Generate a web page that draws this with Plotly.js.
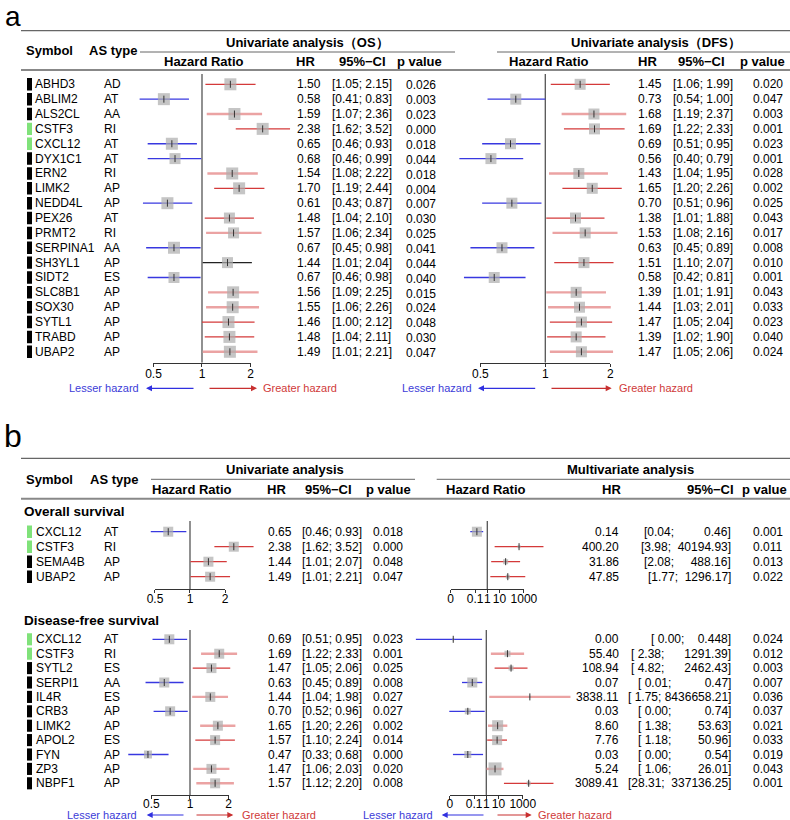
<!DOCTYPE html>
<html><head><meta charset="utf-8">
<script src="https://cdn.plot.ly/plotly-3.0.1.min.js"></script>
<style>html,body{margin:0;padding:0;background:#fff;}#chart{width:790px;height:820px;}</style>
</head><body><div id="chart"></div>
<script>
// ================= DATA =================
// Panel a: univariate analysis, OS and DFS
const aGenes  = ['ABHD3','ABLIM2','ALS2CL','CSTF3','CXCL12','DYX1C1','ERN2','LIMK2','NEDD4L','PEX26','PRMT2','SERPINA1','SH3YL1','SIDT2','SLC8B1','SOX30','SYTL1','TRABD','UBAP2'];
const aAsType = ['AD','AT','AA','RI','AT','AT','RI','AP','AP','AT','RI','AA','AP','ES','AP','AP','AP','AP','AP'];
const aFlag   = ['k','k','k','g','g','k','k','k','k','k','k','k','k','k','k','k','k','k','k'];
const aOsHR  = [1.50,0.58,1.59,2.38,0.65,0.68,1.54,1.70,0.61,1.48,1.57,0.67,1.44,0.67,1.56,1.55,1.46,1.48,1.49];
const aOsLo  = [1.05,0.41,1.07,1.62,0.46,0.46,1.08,1.19,0.43,1.04,1.06,0.45,1.01,0.46,1.09,1.06,1.00,1.04,1.01];
const aOsHi  = [2.15,0.83,2.36,3.52,0.93,0.99,2.22,2.44,0.87,2.10,2.34,0.98,2.04,0.98,2.25,2.26,2.12,2.11,2.21];
const aOsP   = [0.026,0.003,0.023,0.000,0.018,0.044,0.018,0.004,0.007,0.030,0.025,0.041,0.044,0.040,0.015,0.024,0.048,0.030,0.047];
const aDfsHR = [1.45,0.73,1.68,1.69,0.69,0.56,1.43,1.65,0.70,1.38,1.53,0.63,1.51,0.58,1.39,1.44,1.47,1.39,1.47];
const aDfsLo = [1.06,0.54,1.19,1.22,0.51,0.40,1.04,1.20,0.51,1.01,1.08,0.45,1.10,0.42,1.01,1.03,1.05,1.02,1.05];
const aDfsHi = [1.99,1.00,2.37,2.33,0.95,0.79,1.95,2.26,0.96,1.88,2.16,0.89,2.07,0.81,1.91,2.01,2.04,1.90,2.06];
const aDfsP  = [0.020,0.047,0.003,0.001,0.023,0.001,0.028,0.002,0.025,0.043,0.017,0.008,0.010,0.001,0.043,0.033,0.023,0.040,0.024];

// Panel b: overall survival
const bOsGenes  = ['CXCL12','CSTF3','SEMA4B','UBAP2'];
const bOsAsType = ['AT','RI','AP','AP'];
const bOsFlag   = ['g','g','k','k'];
const bOsUniHR = [0.65,2.38,1.44,1.49];
const bOsUniLo = [0.46,1.62,1.01,1.01];
const bOsUniHi = [0.93,3.52,2.07,2.21];
const bOsUniP  = [0.018,0.000,0.048,0.047];
const bOsMulHR = [0.14,400.20,31.86,47.85];
const bOsMulLo = [0.04,3.98,2.08,1.77];
const bOsMulHi = [0.46,40194.93,488.16,1296.17];
const bOsMulP  = [0.001,0.011,0.013,0.022];
const bOsMulCI = ['[0.04;         0.46]','[3.98;  40194.93]','[2.08;     488.16]','[1.77;  1296.17]'];

// Panel b: disease-free survival
const bDfsGenes  = ['CXCL12','CSTF3','SYTL2','SERPI1','IL4R','CRB3','LIMK2','APOL2','FYN','ZP3','NBPF1'];
const bDfsAsType = ['AT','RI','ES','AA','ES','AP','AP','ES','AP','AP','AP'];
const bDfsFlag   = ['g','g','k','k','k','k','k','k','k','k','k'];
const bDfsUniHR = [0.69,1.69,1.47,0.63,1.44,0.70,1.65,1.57,0.47,1.47,1.57];
const bDfsUniLo = [0.51,1.22,1.05,0.45,1.04,0.52,1.20,1.10,0.33,1.06,1.12];
const bDfsUniHi = [0.95,2.33,2.06,0.89,1.98,0.96,2.26,2.24,0.68,2.03,2.20];
const bDfsUniP  = [0.023,0.001,0.025,0.008,0.027,0.027,0.002,0.014,0.000,0.020,0.008];
const bDfsMulHR = [0.0019,55.40,108.94,0.07,3838.11,0.03,8.60,7.76,0.03,5.24,3089.41];
const bDfsMulLo = [0.0000016,2.38,4.82,0.01,1.75,0.0009,1.38,1.18,0.0018,1.06,28.31];
const bDfsMulHi = [0.448,1291.39,2462.43,0.47,8436658.21,0.74,53.63,50.96,0.54,26.01,337136.25];
const bDfsMulP  = [0.024,0.012,0.003,0.007,0.036,0.037,0.021,0.033,0.019,0.043,0.001];
const bDfsMulCI = ['[ 0.00;    0.448]','[ 2.38;      1291.39]','[ 4.82;      2462.43]','[ 0.01;          0.47]',
                   '[ 1.75; 8436658.21]','[ 0.00;          0.74]','[ 1.38;        53.63]','[ 1.18;        50.96]',
                   '[ 0.00;          0.54]','[ 1.06;        26.01]','[28.31;  337136.25]'];

// axis tick labels
const uniTicks = [0.5, 1, 2];
const uniTickText = ['0.5', '1', '2'];
const mulTicks = [0.001, 0.1, 1, 10, 1000];
const mulTickText = ['0', '0.1', '1', '10', '1000'];

// ================= STYLES (kept apart from data) =================
const aOsStyle  = ['r','b','p','r','b','b','p','r','b','r','p','b','k','b','p','p','r','r','p'];
const aDfsStyle = ['r','b','p','r','b','b','p','r','b','r','p','b','r','b','p','p','r','r','p'];
const aOsSize   = [12,12,12,12,12,11,12,12,12,11,11,12,11,11,12,12,12,12,12];
const aDfsSize  = [11,11,11,11,11,11,11,11,11,11,11,11,11,11,11,11,11,11,11];
const bOsUniStyle = ['b','r','r','r'], bOsUniSize = [10,10,10,10];
const bOsMulStyle = ['b','r','r','r'], bOsMulSize = [10,3,5,4];
const bDfsUniStyle = ['b','p','r','b','p','b','p','r','b','p','p'];
const bDfsUniSize  = [10,10,10,10,10,10,10,10,8,10,10];
const bDfsMulStyle = ['b','p','r','b','p','b','p','r','b','p','r'];
const bDfsMulSize  = [2,6,5,10,2,6,11,10,7,13,4];

const LINE = {
  r: {color: '#d43a3a', width: 1.3},
  p: {color: '#eba3a3', width: 2.4},
  b: {color: '#3838e0', width: 1.3},
  k: {color: '#222222', width: 1.2}
};
const FLAGCOL = {k: '#000000', g: '#80e27a'};

// ================= BUILD =================
const W = 790, H = 820;
const PX = v => v / W, PY = v => 1 - v / H;
const FONT = 'Arial, "Liberation Sans", sans-serif';
const traces = [], annotations = [], shapes = [];
const layout = {
  width: W, height: H, margin: {l: 0, r: 0, t: 0, b: 0},
  paper_bgcolor: '#fff', plot_bgcolor: 'rgba(0,0,0,0)',
  showlegend: false, hovermode: false,
  font: {family: FONT, size: 12, color: '#000'}
};
let nF = 0;
const f2 = v => v.toFixed(2), f3 = v => v.toFixed(3);

function txt(x, y, text, o) {
  o = o || {};
  annotations.push({
    x: PX(x), y: o.yref ? y : PY(y),
    xref: 'paper', yref: o.yref || 'paper', text: text, showarrow: false,
    xanchor: o.anchor || 'left', yanchor: 'middle', borderpad: 0,
    font: {family: FONT, size: o.size || 12, color: o.color || '#000'}
  });
}

function forest(f) {
  nF++;
  const k = nF;
  const xm = 2 * k - 1, xt = 2 * k;
  const yName = 'y' + k;
  const tIdx = -(f.row0 - f.top) / f.step, bIdx = (f.bottom - f.row0) / f.step;
  layout['yaxis' + (k === 1 ? '' : k)] = {domain: [PY(f.bottom), PY(f.top)], range: [bIdx, tIdx], visible: false, fixedrange: true};
  layout['xaxis' + (xm === 1 ? '' : xm)] = {
    domain: [PX(f.L), PX(f.R)], type: 'log', range: [(f.L - f.c) / f.u, (f.R - f.c) / f.u],
    anchor: yName, visible: false, fixedrange: true
  };
  const eps = 1e-4;
  const lt = Math.log10(f.ticks[0]) - eps, rt = Math.log10(f.ticks[f.ticks.length - 1]) + eps;
  layout['xaxis' + xt] = {
    domain: [PX(f.c + f.u * lt), PX(f.c + f.u * rt)], type: 'log', range: [lt, rt], anchor: yName,
    showline: true, linecolor: '#333', linewidth: 1, ticks: 'outside', ticklen: 3, tickwidth: 1, tickcolor: '#333',
    tickvals: f.ticks, ticktext: f.tickText, tickangle: 0, ticklabelstandoff: f.standoff,
    tickfont: {family: FONT, size: 12, color: '#000'},
    showgrid: false, zeroline: false, fixedrange: true
  };
  const xmN = 'x' + (xm === 1 ? '' : xm), xtN = 'x' + xt;
  const idx = f.hr.map((_, i) => i);
  // invisible anchor trace for the tick axis
  traces.push({x: [1], y: [0], xaxis: xtN, yaxis: yName, mode: 'markers', marker: {opacity: 0}, hoverinfo: 'skip'});
  // reference line at HR = 1
  traces.push({x: [1, 1], y: [tIdx, bIdx], xaxis: xmN, yaxis: yName, mode: 'lines', line: {color: '#555', width: 1.3}, hoverinfo: 'skip'});
  // confidence intervals grouped by style
  ['p', 'r', 'b', 'k'].forEach(s => {
    const xs = [], ys = [];
    idx.forEach(i => { if (f.style[i] === s) { xs.push(f.lo[i], f.hi[i], null); ys.push(i, i, null); } });
    if (xs.length) traces.push({x: xs, y: ys, xaxis: xmN, yaxis: yName, mode: 'lines', line: LINE[s], hoverinfo: 'skip'});
  });
  // squares
  traces.push({x: f.hr, y: idx, xaxis: xmN, yaxis: yName, mode: 'markers',
    marker: {symbol: 'square', size: f.size, color: '#adadad', line: {width: 0}}, hoverinfo: 'skip', cliponaxis: false});
  // point estimate tick
  traces.push({x: f.hr, y: idx, xaxis: xmN, yaxis: yName, mode: 'markers',
    marker: {symbol: 'line-ns-open', size: 5, color: '#333', line: {color: '#333', width: 1}}, hoverinfo: 'skip', cliponaxis: false});
  return yName;
}

function rowLabels(yName, genes, types, flags, gx, tx) {
  genes.forEach((g, i) => {
    shapes.push({type: 'rect', xref: 'paper', yref: yName, x0: PX(27), x1: PX(32), y0: i - 0.42, y1: i + 0.42,
      fillcolor: FLAGCOL[flags[i]], line: {width: 0}});
    txt(gx, i, g, {yref: yName});
    txt(tx, i, types[i], {yref: yName});
  });
}

function hline(y, x0, x1, color, width) {
  shapes.push({type: 'line', xref: 'paper', yref: 'paper', x0: PX(x0), x1: PX(x1), y0: PY(y), y1: PY(y), line: {color: color, width: width}});
}

function arrow(y, head, tail, color) {
  annotations.push({x: PX(head), y: PY(y), xref: 'paper', yref: 'paper', ax: tail - head, ay: 0, text: '',
    showarrow: true, arrowhead: 2, arrowsize: 1, arrowwidth: 1.2, arrowcolor: color});
}
function hazards(y, lesserEnd, bHead, bTail, rTail, rHead, greaterStart) {
  txt(lesserEnd, y, 'Lesser hazard', {anchor: 'right', size: 11, color: '#3c3cd8'});
  arrow(y, bHead, bTail, '#3030e0');
  arrow(y, rHead, rTail, '#c83030');
  txt(greaterStart, y, 'Greater hazard', {anchor: 'left', size: 11, color: '#d03a3a'});
}

// ---------- Panel a ----------
txt(4, 16, 'a', {size: 28});
hline(30.7, 21, 790, '#666', 1.2);
hline(52, 140, 455, '#666', 1);
hline(52, 497, 790, '#666', 1);
hline(70, 21, 790, '#888', 2);
txt(49.5, 50, '<b>Symbol</b>', {anchor: 'center', size: 13});
txt(113, 50, '<b>AS type</b>', {anchor: 'center', size: 13});
txt(307.5, 42, '<b>Univariate analysis（OS）</b>', {anchor: 'center', size: 13});
txt(656.3, 42, '<b>Univariate analysis（DFS）</b>', {anchor: 'center', size: 13});
[[204.2, 'Hazard Ratio'], [305.8, 'HR'], [362.5, '95%\u2212CI'], [419.2, 'p value'],
 [548.8, 'Hazard Ratio'], [647, 'HR'], [701.2, '95%\u2212CI'], [762.5, 'p value']].forEach(h =>
  txt(h[0], 62, '<b>' + h[1] + '</b>', {anchor: 'center', size: 13}));

const aRows = {top: 74, bottom: 362.7, row0: 84.3, step: 14.86};
const yA1 = forest(Object.assign({c: 202, u: 161.1, L: 125, R: 296, ticks: uniTicks, tickText: uniTickText, standoff: -3,
  hr: aOsHR, lo: aOsLo, hi: aOsHi, style: aOsStyle, size: aOsSize}, aRows));
const yA2 = forest(Object.assign({c: 545.3, u: 215.9, L: 450, R: 634, ticks: uniTicks, tickText: uniTickText, standoff: -3,
  hr: aDfsHR, lo: aDfsLo, hi: aDfsHi, style: aDfsStyle, size: aDfsSize}, aRows));
rowLabels(yA1, aGenes, aAsType, aFlag, 33.5, 102.5);
aGenes.forEach((_, i) => {
  txt(296.2, i, f2(aOsHR[i]), {yref: yA1});
  txt(331.2, i, '[' + f2(aOsLo[i]) + '; ' + f2(aOsHi[i]) + ']', {yref: yA1});
  txt(405.5, i + 0.08, f3(aOsP[i]), {yref: yA1});
  txt(637, i, f2(aDfsHR[i]), {yref: yA1});
  txt(672.3, i, '[' + f2(aDfsLo[i]) + '; ' + f2(aDfsHi[i]) + ']', {yref: yA1});
  txt(751.5, i, f3(aDfsP[i]), {yref: yA1});
});
hazards(388.3, 140, 146, 195, 208, 257, 262);
hazards(388.3, 473, 478, 536.7, 550, 611.7, 617.7);

// ---------- Panel b ----------
txt(3, 436, 'b', {size: 32});
hline(458.3, 21, 790, '#666', 1.2);
hline(479.3, 151, 415, '#666', 1);
hline(479.3, 436.7, 790, '#666', 1);
hline(498.8, 21, 790, '#888', 2);
txt(49.2, 479.5, '<b>Symbol</b>', {anchor: 'center', size: 13});
txt(113.7, 479.5, '<b>AS type</b>', {anchor: 'center', size: 13});
txt(284.7, 470, '<b>Univariate analysis</b>', {anchor: 'center', size: 13});
txt(630, 470, '<b>Multivariate analysis</b>', {anchor: 'center', size: 13});
[[191.5, 'Hazard Ratio'], [276.7, 'HR'], [328, '95%\u2212CI'], [388.5, 'p value'],
 [485.8, 'Hazard Ratio'], [611.3, 'HR'], [710, '95%\u2212CI'], [764, 'p value']].forEach(h =>
  txt(h[0], 489.3, '<b>' + h[1] + '</b>', {anchor: 'center', size: 13}));
txt(22.5, 511.7, '<b>Overall survival</b>', {size: 13.5});
txt(22.5, 620.7, '<b>Disease-free survival</b>', {size: 13.5});

const bOsRows = {top: 521, bottom: 589.3, row0: 531.7, step: 15};
const bDfsRows = {top: 630, bottom: 795, row0: 639.3, step: 14.4};
const yB1 = forest(Object.assign({c: 190, u: 116.3, L: 115, R: 262, ticks: uniTicks, tickText: uniTickText, standoff: -5,
  hr: bOsUniHR, lo: bOsUniLo, hi: bOsUniHi, style: bOsUniStyle, size: bOsUniSize}, bOsRows));
const yB2 = forest(Object.assign({c: 487.3, u: 12.2, L: 405, R: 598, ticks: mulTicks, tickText: mulTickText, standoff: -5,
  hr: bOsMulHR, lo: bOsMulLo, hi: bOsMulHi, style: bOsMulStyle, size: bOsMulSize}, bOsRows));
const yB3 = forest(Object.assign({c: 190, u: 128.2, L: 115, R: 262, ticks: uniTicks, tickText: uniTickText, standoff: -5,
  hr: bDfsUniHR, lo: bDfsUniLo, hi: bDfsUniHi, style: bDfsUniStyle, size: bDfsUniSize}, bDfsRows));
const yB4 = forest(Object.assign({c: 486.3, u: 12.15, L: 405, R: 598, ticks: mulTicks, tickText: mulTickText, standoff: -5,
  hr: bDfsMulHR, lo: bDfsMulLo, hi: bDfsMulHi, style: bDfsMulStyle, size: bDfsMulSize}, bDfsRows));

rowLabels(yB1, bOsGenes, bOsAsType, bOsFlag, 34.5, 102.5);
rowLabels(yB3, bDfsGenes, bDfsAsType, bDfsFlag, 34.5, 102.5);
function bText(yName, uHR, uLo, uHi, uP, mHR, mCI, mP) {
  uHR.forEach((_, i) => {
    txt(267.3, i, f2(uHR[i]), {yref: yName});
    txt(301.3, i, '[' + f2(uLo[i]) + '; ' + f2(uHi[i]) + ']', {yref: yName});
    txt(372.3, i, f3(uP[i]), {yref: yName});
    txt(620, i, f2(mHR[i]), {yref: yName, anchor: 'right'});
    txt(731.7, i, mCI[i].replace(/ /g, '\u00a0'), {yref: yName, anchor: 'right'});
    txt(751.5, i, f3(mP[i]), {yref: yName});
  });
}
bText(yB1, bOsUniHR, bOsUniLo, bOsUniHi, bOsUniP, bOsMulHR, bOsMulCI, bOsMulP);
bText(yB3, bDfsUniHR, bDfsUniLo, bDfsUniHi, bDfsUniP, bDfsMulHR, bDfsMulCI, bDfsMulP);
hazards(815, 138.3, 146.7, 185, 195, 233.3, 240.7);
hazards(815, 434.3, 441.7, 485, 496, 531.7, 536.7);

layout.annotations = annotations;
layout.shapes = shapes;
Plotly.newPlot('chart', traces, layout, {displayModeBar: false, staticPlot: true});
</script>
</body></html>
